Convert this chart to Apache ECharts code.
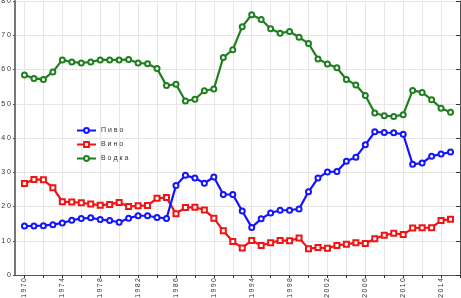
<!DOCTYPE html>
<html><head><meta charset="utf-8">
<script src="https://cdn.jsdelivr.net/npm/echarts@6/dist/echarts.min.js"></script>
<style>html,body{margin:0;padding:0;background:#fff}#c{width:461px;height:298px}</style>
</head><body><div id="c"></div>
<script>
const axisYears = [];
for (let y = 1969; y <= 2016; y++) axisYears.push(String(y));
const years = [1970,1971,1972,1973,1974,1975,1976,1977,1978,1979,1980,1981,1982,1983,1984,1985,1986,1987,1988,1989,1990,1991,1992,1993,1994,1995,1996,1997,1998,1999,2000,2001,2002,2003,2004,2005,2006,2007,2008,2009,2010,2011,2012,2013,2014,2015];
const beer = [14.3,14.3,14.4,14.7,15.2,16.0,16.5,16.7,16.2,15.9,15.4,16.6,17.3,17.3,16.8,16.5,26.1,29.1,28.3,26.8,28.6,23.5,23.5,18.7,13.9,16.4,18.1,18.9,18.9,19.3,24.3,28.3,30.1,30.2,33.2,34.4,38.0,41.8,41.6,41.5,41.1,32.3,32.7,34.7,35.3,35.9];
const wine = [26.7,27.9,27.8,25.5,21.4,21.3,21.1,20.7,20.4,20.6,21.2,20.0,20.2,20.3,22.4,22.6,17.9,19.7,19.8,19.0,16.6,12.9,9.8,7.9,10.1,8.6,9.4,10.1,10.0,10.8,7.7,8.0,7.8,8.6,9.0,9.4,9.2,10.6,11.6,12.2,11.8,13.7,13.8,13.8,15.9,16.3];
const vodka = [58.4,57.4,57.1,59.3,62.8,62.2,61.9,62.2,62.8,62.8,62.8,62.9,61.9,61.7,60.3,55.3,55.7,50.8,51.3,53.8,54.3,63.5,65.8,72.5,76.0,74.6,71.9,70.6,71.1,69.4,67.6,63.1,61.6,60.5,57.1,55.5,52.4,47.3,46.5,46.3,46.8,53.9,53.3,51.2,48.7,47.5];
const yTicks = {min: 0, max: 80, step: 10};
const names = ['Пиво', 'Вино', 'Водка'];

const sp = s => String(s).split('').join(' ');
const spThin = s => String(s).split('').join('\u2009');
const pairs = arr => years.map((y, i) => [String(y), arr[i]]);
const FONT = 'Liberation Sans';
const ch = echarts.init(document.getElementById('c'));
ch.setOption({
  animation: false,
  grid: {left: 15, right: 1, top: 1, bottom: 23, containLabel: false, outerBoundsMode: 'none'},
  legend: {
    orient: 'vertical', left: 71, top: 122, itemWidth: 19, itemHeight: 6, itemGap: 7,
    data: names, formatter: n => sp(n),
    textStyle: {fontSize: 7, color: '#333', fontFamily: FONT}
  },
  xAxis: [{
    type: 'category', data: axisYears, boundaryGap: false, position: 'bottom',
    axisLine: {lineStyle: {color: '#555', width: 1}},
    axisTick: {show: true, length: 2, interval: (i, v) => (+v) % 2 === 0, lineStyle: {color: '#333'}},
    axisLabel: {rotate: 90, interval: (i, v) => (+v) % 4 === 2, formatter: v => spThin(v), fontSize: 7, color: '#333', margin: 3, fontFamily: FONT},
    splitLine: {show: true, interval: (i, v) => (+v) % 2 === 0, lineStyle: {color: '#e6e6e6', width: 1}}
  }, {
    type: 'category', data: axisYears, boundaryGap: false, position: 'top',
    axisLine: {lineStyle: {color: '#555', width: 1}},
    axisTick: {show: true, inside: true, length: 3, interval: (i, v) => (+v) % 2 === 0, lineStyle: {color: '#333'}},
    axisLabel: {show: false}, splitLine: {show: false}
  }],
  yAxis: [{
    type: 'value', min: yTicks.min, max: yTicks.max, interval: yTicks.step, position: 'left',
    axisLine: {show: true, lineStyle: {color: '#777', width: 2}},
    axisTick: {show: true, length: 2, lineStyle: {color: '#555'}},
    axisLabel: {formatter: v => sp(v), fontSize: 7, color: '#333', margin: 4, fontFamily: FONT},
    splitLine: {show: true, lineStyle: {color: '#e6e6e6', width: 1}}
  }, {
    type: 'value', min: yTicks.min, max: yTicks.max, interval: yTicks.step, position: 'right',
    axisLine: {show: true, lineStyle: {color: '#555', width: 1}},
    axisTick: {show: true, inside: true, length: 4, lineStyle: {color: '#333'}},
    axisLabel: {show: false}, splitLine: {show: false}
  }],
  series: [
    {name: names[0], type: 'line', data: pairs(beer), z: 4, symbol: 'emptyCircle', symbolSize: 5,
     itemStyle: {color: '#1414ff', borderWidth: 1}, lineStyle: {width: 2.2, color: '#1414ff'}},
    {name: names[1], type: 'line', data: pairs(wine), z: 3, symbol: 'emptyRect', symbolSize: 5,
     itemStyle: {color: '#f01414', borderWidth: 1}, lineStyle: {width: 2.2, color: '#f01414'}},
    {name: names[2], type: 'line', data: pairs(vodka), z: 3, symbol: 'emptyCircle', symbolSize: 5,
     itemStyle: {color: '#1f7f1f', borderWidth: 1}, lineStyle: {width: 2.2, color: '#1f7f1f'}}
  ]
});
</script></body></html>
